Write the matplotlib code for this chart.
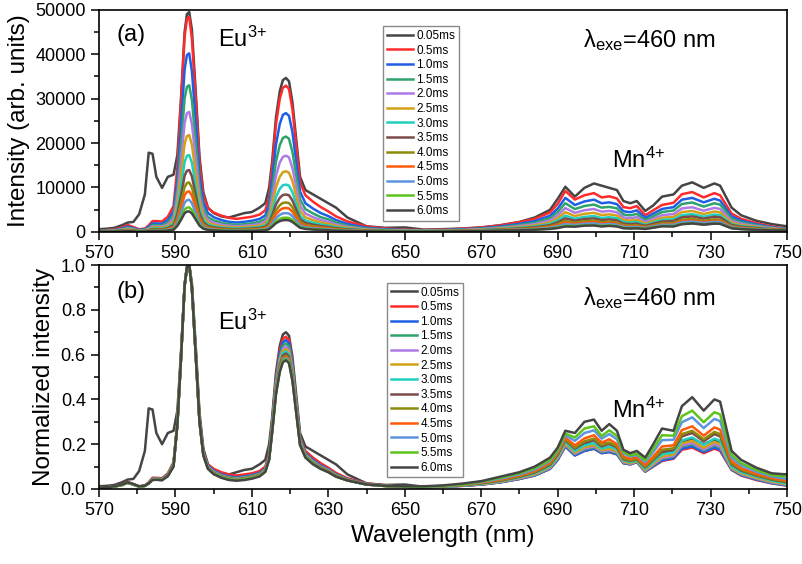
import numpy as np
import matplotlib
matplotlib.use('Agg')
import matplotlib.pyplot as plt
from matplotlib.ticker import MultipleLocator, FixedLocator, FormatStrFormatter

plt.rcParams['font.family'] = ['Liberation Sans', 'DejaVu Sans']
plt.rcParams['mathtext.fontset'] = 'custom'
plt.rcParams['mathtext.rm'] = 'Liberation Sans'
plt.rcParams['mathtext.it'] = 'Liberation Sans:italic'
plt.rcParams['mathtext.bf'] = 'Liberation Sans:bold'

wavelength = [570, 572, 574, 576, 577.5, 579, 580.5, 582, 583, 584, 585, 586.5, 588, 589.5,
              590.5, 591.5, 592.4, 593.0, 593.6, 594.3, 595.3, 596.3, 597.3, 598.5, 600, 602, 604,
              606, 608, 610, 612, 613.5, 614.5,
              615.3, 616.3, 617.3, 618.1, 618.9, 619.7, 620.6, 621.6, 622.6,
              624, 626, 628, 630, 632, 635, 640, 645, 650, 655, 660, 665,
              670, 675, 680, 684, 688, 690, 692, 694.5, 697, 699.5, 701.5, 703.5, 705.5,
              707.2, 709, 710.7, 712.9, 715, 717.3, 720.3, 722.5, 725.2, 728.2, 731, 732.5,
              735.5, 738, 742, 746, 750]

delay_labels = ['0.05ms', '0.5ms', '1.0ms', '1.5ms', '2.0ms', '2.5ms', '3.0ms',
                '3.5ms', '4.0ms', '4.5ms', '5.0ms', '5.5ms', '6.0ms']

# intensity of the 593 nm maximum for each delay (panel a)
peak_intensity = [49500, 48400, 40200, 33000, 27000, 21800, 17300, 13900, 11100, 9100, 7200, 5500, 4600]

# normalized spectra (panel b), one list per delay
norm_0p05 = [0.012, 0.014, 0.018, 0.03, 0.042, 0.045, 0.08, 0.17, 0.36, 0.355, 0.25, 0.2, 0.25, 0.26,
             0.35, 0.62, 0.91, 0.99, 1.0, 0.92, 0.64, 0.34, 0.18, 0.11, 0.085, 0.07, 0.065,
             0.075, 0.085, 0.09, 0.11, 0.13, 0.2,
             0.32, 0.52, 0.64, 0.69, 0.70, 0.685, 0.59, 0.42, 0.25,
             0.19, 0.17, 0.15, 0.13, 0.11, 0.065, 0.025, 0.018, 0.02, 0.01, 0.012, 0.015,
             0.02, 0.03, 0.045, 0.065, 0.1, 0.15, 0.205, 0.16, 0.2, 0.22, 0.21, 0.2, 0.19,
             0.14, 0.13, 0.14, 0.095, 0.12, 0.16, 0.17, 0.21, 0.225, 0.2, 0.22, 0.21,
             0.11, 0.075, 0.05, 0.035, 0.025]
norm_0p5 = [0.005, 0.008, 0.012, 0.02, 0.032, 0.022, 0.012, 0.015, 0.03, 0.05, 0.05, 0.048, 0.07, 0.12,
            0.3, 0.62, 0.91, 0.99, 1.0, 0.9, 0.62, 0.32, 0.17, 0.11, 0.09, 0.075, 0.065,
            0.06, 0.065, 0.07, 0.08, 0.1, 0.16,
            0.3, 0.5, 0.62, 0.67, 0.68, 0.665, 0.57, 0.4, 0.23,
            0.17, 0.14, 0.115, 0.095, 0.072, 0.048, 0.025, 0.015, 0.01, 0.008, 0.01, 0.014,
            0.02, 0.03, 0.045, 0.06, 0.09, 0.13, 0.19, 0.15, 0.17, 0.18, 0.16, 0.165, 0.155,
            0.115, 0.11, 0.12, 0.077, 0.1, 0.125, 0.135, 0.175, 0.185, 0.16, 0.18, 0.17,
            0.085, 0.06, 0.04, 0.025, 0.015]
norm_1p0 = [0.005, 0.007, 0.011, 0.018, 0.03, 0.02, 0.011, 0.014, 0.028, 0.047, 0.047, 0.045, 0.066, 0.115,
            0.29, 0.61, 0.91, 0.99, 1.0, 0.9, 0.62, 0.31, 0.165, 0.105, 0.082, 0.066, 0.056,
            0.052, 0.056, 0.062, 0.072, 0.092, 0.15,
            0.293, 0.489, 0.605, 0.655, 0.665, 0.65, 0.559, 0.392, 0.226,
            0.16, 0.13, 0.105, 0.088, 0.066, 0.044, 0.023, 0.014, 0.01, 0.008, 0.01, 0.014,
            0.02, 0.03, 0.045, 0.06, 0.09, 0.13, 0.19, 0.15, 0.17, 0.18, 0.16, 0.165, 0.155,
            0.115, 0.11, 0.12, 0.078, 0.102, 0.128, 0.138, 0.18, 0.19, 0.165, 0.185, 0.175,
            0.087, 0.062, 0.042, 0.026, 0.016]
norm_1p5 = [0.005, 0.007, 0.011, 0.018, 0.029, 0.02, 0.011, 0.014, 0.027, 0.045, 0.046, 0.044, 0.064, 0.112,
            0.29, 0.61, 0.91, 0.99, 1.0, 0.9, 0.61, 0.305, 0.16, 0.1, 0.078, 0.062, 0.052,
            0.048, 0.052, 0.058, 0.068, 0.088, 0.145,
            0.286, 0.478, 0.592, 0.64, 0.65, 0.636, 0.546, 0.384, 0.221,
            0.155, 0.125, 0.1, 0.085, 0.063, 0.042, 0.022, 0.014, 0.01, 0.008, 0.01, 0.015,
            0.021, 0.031, 0.047, 0.062, 0.093, 0.135, 0.195, 0.155, 0.176, 0.186, 0.165, 0.17, 0.16,
            0.118, 0.112, 0.122, 0.08, 0.106, 0.135, 0.145, 0.19, 0.2, 0.172, 0.195, 0.185,
            0.09, 0.065, 0.045, 0.028, 0.018]
norm_2p0 = [0.005, 0.007, 0.011, 0.018, 0.029, 0.02, 0.011, 0.014, 0.027, 0.044, 0.045, 0.043, 0.063, 0.11,
            0.29, 0.6, 0.91, 0.99, 1.0, 0.9, 0.61, 0.3, 0.158, 0.098, 0.076, 0.06, 0.05,
            0.046, 0.05, 0.056, 0.066, 0.086, 0.142,
            0.279, 0.467, 0.578, 0.625, 0.635, 0.621, 0.533, 0.375, 0.216,
            0.152, 0.122, 0.098, 0.083, 0.062, 0.041, 0.021, 0.014, 0.01, 0.008, 0.011, 0.015,
            0.022, 0.032, 0.048, 0.064, 0.095, 0.138, 0.198, 0.158, 0.18, 0.19, 0.168, 0.174, 0.163,
            0.12, 0.113, 0.123, 0.082, 0.109, 0.139, 0.148, 0.195, 0.205, 0.176, 0.2, 0.19,
            0.092, 0.067, 0.047, 0.03, 0.02]
norm_2p5 = [0.005, 0.007, 0.011, 0.018, 0.029, 0.02, 0.011, 0.014, 0.026, 0.044, 0.045, 0.043, 0.062, 0.11,
            0.29, 0.6, 0.91, 0.99, 1.0, 0.9, 0.6, 0.3, 0.156, 0.096, 0.074, 0.058, 0.049,
            0.045, 0.049, 0.055, 0.065, 0.085, 0.14,
            0.275, 0.459, 0.569, 0.616, 0.625, 0.611, 0.525, 0.369, 0.213,
            0.15, 0.12, 0.097, 0.082, 0.061, 0.041, 0.021, 0.014, 0.01, 0.009, 0.011, 0.016,
            0.023, 0.033, 0.05, 0.066, 0.098, 0.142, 0.203, 0.163, 0.186, 0.196, 0.173, 0.18, 0.168,
            0.123, 0.115, 0.125, 0.085, 0.113, 0.145, 0.154, 0.204, 0.215, 0.184, 0.21, 0.2,
            0.095, 0.07, 0.05, 0.033, 0.022]
norm_3p0 = [0.005, 0.007, 0.011, 0.018, 0.028, 0.02, 0.011, 0.014, 0.026, 0.043, 0.044, 0.042, 0.062, 0.108,
            0.29, 0.6, 0.91, 0.99, 1.0, 0.9, 0.6, 0.3, 0.155, 0.095, 0.073, 0.057, 0.048,
            0.044, 0.048, 0.054, 0.064, 0.084, 0.138,
            0.271, 0.452, 0.56, 0.606, 0.615, 0.601, 0.517, 0.363, 0.209,
            0.148, 0.118, 0.095, 0.08, 0.06, 0.04, 0.021, 0.014, 0.01, 0.009, 0.011, 0.016,
            0.024, 0.035, 0.052, 0.07, 0.102, 0.147, 0.21, 0.17, 0.195, 0.205, 0.18, 0.19, 0.176,
            0.128, 0.12, 0.128, 0.09, 0.12, 0.155, 0.163, 0.217, 0.23, 0.197, 0.225, 0.215,
            0.1, 0.075, 0.055, 0.037, 0.025]
norm_3p5 = [0.005, 0.007, 0.011, 0.018, 0.028, 0.02, 0.011, 0.014, 0.026, 0.043, 0.044, 0.042, 0.061, 0.107,
            0.29, 0.6, 0.91, 0.99, 1.0, 0.9, 0.6, 0.3, 0.154, 0.094, 0.072, 0.056, 0.047,
            0.043, 0.047, 0.053, 0.063, 0.083, 0.136,
            0.266, 0.445, 0.551, 0.596, 0.605, 0.592, 0.508, 0.357, 0.206,
            0.146, 0.116, 0.094, 0.079, 0.059, 0.04, 0.021, 0.014, 0.01, 0.009, 0.012, 0.017,
            0.026, 0.037, 0.055, 0.074, 0.108, 0.153, 0.218, 0.18, 0.207, 0.218, 0.19, 0.202, 0.185,
            0.133, 0.125, 0.132, 0.097, 0.13, 0.167, 0.175, 0.235, 0.25, 0.213, 0.245, 0.235,
            0.11, 0.082, 0.06, 0.042, 0.03]
norm_4p0 = [0.005, 0.007, 0.011, 0.018, 0.028, 0.02, 0.011, 0.014, 0.025, 0.042, 0.043, 0.041, 0.06, 0.106,
            0.29, 0.6, 0.91, 0.99, 1.0, 0.9, 0.6, 0.3, 0.153, 0.093, 0.071, 0.055, 0.046,
            0.042, 0.046, 0.052, 0.062, 0.082, 0.135,
            0.262, 0.437, 0.541, 0.586, 0.595, 0.582, 0.5, 0.351, 0.202,
            0.145, 0.115, 0.093, 0.078, 0.058, 0.039, 0.02, 0.013, 0.01, 0.009, 0.012, 0.017,
            0.027, 0.039, 0.057, 0.077, 0.112, 0.157, 0.222, 0.185, 0.213, 0.225, 0.196, 0.208, 0.19,
            0.137, 0.128, 0.135, 0.1, 0.135, 0.175, 0.182, 0.245, 0.26, 0.222, 0.255, 0.245,
            0.115, 0.086, 0.063, 0.045, 0.033]
norm_4p5 = [0.005, 0.007, 0.011, 0.018, 0.028, 0.02, 0.011, 0.014, 0.025, 0.042, 0.043, 0.041, 0.06, 0.105,
            0.29, 0.6, 0.91, 0.99, 1.0, 0.9, 0.6, 0.3, 0.152, 0.092, 0.07, 0.054, 0.045,
            0.041, 0.045, 0.051, 0.061, 0.081, 0.134,
            0.26, 0.434, 0.537, 0.581, 0.59, 0.577, 0.496, 0.348, 0.201,
            0.144, 0.114, 0.092, 0.077, 0.057, 0.039, 0.02, 0.013, 0.01, 0.01, 0.013, 0.018,
            0.029, 0.042, 0.06, 0.081, 0.118, 0.163, 0.23, 0.195, 0.226, 0.24, 0.207, 0.222, 0.2,
            0.145, 0.135, 0.142, 0.107, 0.145, 0.19, 0.195, 0.263, 0.28, 0.238, 0.275, 0.265,
            0.125, 0.093, 0.068, 0.05, 0.038]
norm_5p0 = [0.005, 0.007, 0.011, 0.018, 0.028, 0.02, 0.011, 0.014, 0.025, 0.041, 0.042, 0.04, 0.059, 0.104,
            0.29, 0.6, 0.91, 0.99, 1.0, 0.9, 0.6, 0.3, 0.151, 0.091, 0.069, 0.053, 0.044,
            0.04, 0.044, 0.05, 0.06, 0.08, 0.133,
            0.257, 0.43, 0.532, 0.576, 0.585, 0.572, 0.491, 0.345, 0.199,
            0.143, 0.113, 0.091, 0.076, 0.056, 0.038, 0.02, 0.013, 0.01, 0.01, 0.013, 0.019,
            0.031, 0.046, 0.065, 0.087, 0.125, 0.17, 0.24, 0.215, 0.25, 0.262, 0.225, 0.245, 0.222,
            0.158, 0.145, 0.152, 0.12, 0.165, 0.218, 0.22, 0.298, 0.32, 0.272, 0.313, 0.303,
            0.14, 0.105, 0.077, 0.056, 0.045]
norm_5p5 = [0.005, 0.007, 0.011, 0.018, 0.028, 0.02, 0.011, 0.014, 0.025, 0.041, 0.042, 0.04, 0.058, 0.103,
            0.29, 0.6, 0.91, 0.99, 1.0, 0.9, 0.6, 0.3, 0.15, 0.09, 0.068, 0.052, 0.043,
            0.039, 0.043, 0.049, 0.059, 0.079, 0.132,
            0.255, 0.426, 0.528, 0.571, 0.58, 0.567, 0.487, 0.342, 0.197,
            0.142, 0.112, 0.09, 0.075, 0.056, 0.038, 0.02, 0.013, 0.011, 0.01, 0.014, 0.02,
            0.033, 0.05, 0.07, 0.093, 0.13, 0.175, 0.248, 0.23, 0.27, 0.28, 0.237, 0.262, 0.237,
            0.165, 0.15, 0.158, 0.128, 0.18, 0.24, 0.238, 0.325, 0.35, 0.298, 0.343, 0.333,
            0.153, 0.115, 0.085, 0.062, 0.055]
norm_6p0 = [0.006, 0.008, 0.012, 0.02, 0.03, 0.022, 0.012, 0.015, 0.025, 0.04, 0.041, 0.039, 0.057, 0.1,
            0.29, 0.6, 0.91, 0.99, 1.0, 0.9, 0.6, 0.3, 0.15, 0.09, 0.066, 0.05, 0.04,
            0.037, 0.04, 0.046, 0.056, 0.076, 0.13,
            0.253, 0.423, 0.523, 0.566, 0.575, 0.562, 0.483, 0.339, 0.196,
            0.14, 0.11, 0.09, 0.075, 0.055, 0.038, 0.02, 0.014, 0.012, 0.012, 0.016, 0.024,
            0.035, 0.055, 0.075, 0.1, 0.14, 0.185, 0.26, 0.25, 0.30, 0.31, 0.26, 0.29, 0.26,
            0.175, 0.16, 0.17, 0.14, 0.20, 0.27, 0.26, 0.37, 0.41, 0.35, 0.40, 0.39,
            0.17, 0.13, 0.095, 0.07, 0.065]

normalized_spectra = [norm_0p05, norm_0p5, norm_1p0, norm_1p5, norm_2p0, norm_2p5, norm_3p0,
                      norm_3p5, norm_4p0, norm_4p5, norm_5p0, norm_5p5, norm_6p0]

series_colors = ['#454545', '#FF2A2A', '#1E5FE6', '#2EA36B', '#B07AE6', '#D4A017', '#20CFC0',
                 '#7B4A4A', '#8C8C0A', '#FF5A0A', '#5C95E0', '#5CC41A', '#454545']

x_ticks = [570, 590, 610, 630, 650, 670, 690, 710, 730, 750]

for s in normalized_spectra:
    assert len(s) == len(wavelength), (len(s), len(wavelength))

fig = plt.figure(figsize=(8.03, 5.64), dpi=100)
ax1 = fig.add_axes([0.1233, 0.589, 0.8568, 0.3936])
ax2 = fig.add_axes([0.1233, 0.133, 0.8568, 0.397])

wl = np.array(wavelength)
for lab, spec, pk, col in zip(delay_labels, normalized_spectra, peak_intensity, series_colors):
    spec = np.array(spec)
    ax1.plot(wl, spec * pk, color=col, lw=1.8, label=lab, solid_joinstyle='round')
    ax2.plot(wl, spec, color=col, lw=1.8, label=lab, solid_joinstyle='round')

legend_anchor = {0: (0.413, 0.925), 1: (0.419, 0.92)}
for i, ax in enumerate((ax1, ax2)):
    ax.set_xlim(570, 750)
    ax.xaxis.set_major_locator(FixedLocator(x_ticks))
    ax.xaxis.set_minor_locator(MultipleLocator(10))
    ax.tick_params(which='major', direction='out', length=6, width=1.1, labelsize=13,
                   top=False, right=False)
    ax.tick_params(which='minor', direction='out', length=3.5, width=1.1,
                   top=False, right=False)
    for sp in ax.spines.values():
        sp.set_linewidth(1.2)
    leg = ax.legend(loc='upper left', bbox_to_anchor=legend_anchor[i],
                    fontsize=8.5, handlelength=2.2, labelspacing=0.22, frameon=True,
                    fancybox=False, edgecolor='#8a8a8a', borderpad=0.3,
                    handletextpad=0.3, borderaxespad=0, framealpha=1)
    leg.get_frame().set_linewidth(1.0)

ax1.set_ylim(0, 50000)
ax1.yaxis.set_major_locator(MultipleLocator(10000))
ax1.yaxis.set_minor_locator(MultipleLocator(5000))
ax2.set_ylim(0, 1.0)
ax2.yaxis.set_major_locator(MultipleLocator(0.2))
ax2.yaxis.set_minor_locator(MultipleLocator(0.1))
ax2.yaxis.set_major_formatter(FormatStrFormatter('%.1f'))

ax1.set_ylabel('Intensity (arb. units)', fontsize=17.5)
ax2.set_ylabel('Normalized intensity', fontsize=17.5)
ax2.set_xlabel('Wavelength (nm)', fontsize=17.5)

eu_text = r'$\mathregular{Eu^{3{+}}}$'
mn_text = r'$\mathregular{Mn^{4{+}}}$'
lam_text = r'$\mathregular{\lambda_{exe}}$=460 nm'

ax1.text(0.025, 0.887, '(a)', transform=ax1.transAxes, fontsize=17, va='center')
ax1.text(0.173, 0.865, eu_text, transform=ax1.transAxes, fontsize=17, va='center')
ax1.text(0.703, 0.865, lam_text, transform=ax1.transAxes, fontsize=17, va='center')
ax1.text(0.746, 0.32, mn_text, transform=ax1.transAxes, fontsize=17, va='center')

ax2.text(0.025, 0.88, '(b)', transform=ax2.transAxes, fontsize=17, va='center')
ax2.text(0.173, 0.745, eu_text, transform=ax2.transAxes, fontsize=17, va='center')
ax2.text(0.703, 0.853, lam_text, transform=ax2.transAxes, fontsize=17, va='center')
ax2.text(0.746, 0.353, mn_text, transform=ax2.transAxes, fontsize=17, va='center')

fig.savefig('out.png', dpi=100)
